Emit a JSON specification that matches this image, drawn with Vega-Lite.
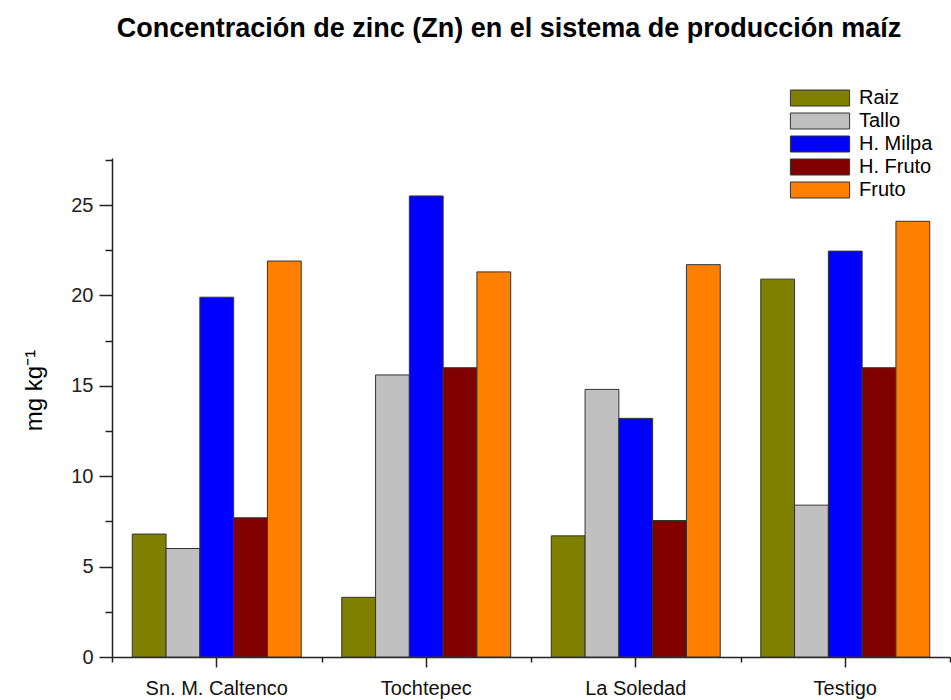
{
  "$schema": "https://vega.github.io/schema/vega-lite/v6.json",
  "width": 838,
  "height": 499,
  "autosize": {"type": "none"},
  "padding": {"left": 112, "top": 158, "right": 1, "bottom": 43},
  "background": "white",
  "config": {"view": {"stroke": null}, "font": "Liberation Sans"},
  "title": {
    "text": "Concentración de zinc (Zn) en el sistema de producción maíz",
    "fontSize": 27,
    "fontWeight": "bold",
    "font": "Liberation Sans",
    "color": "#000",
    "anchor": "middle",
    "dx": -22,
    "offset": 24,
    "baseline": "alphabetic"
  },
  "data": {
    "values": [
      {"site": "Sn. M. Caltenco", "part": "Raiz", "value": 6.8},
      {"site": "Sn. M. Caltenco", "part": "Tallo", "value": 6.0},
      {"site": "Sn. M. Caltenco", "part": "H. Milpa", "value": 19.9},
      {"site": "Sn. M. Caltenco", "part": "H. Fruto", "value": 7.7},
      {"site": "Sn. M. Caltenco", "part": "Fruto", "value": 21.9},
      {"site": "Tochtepec", "part": "Raiz", "value": 3.3},
      {"site": "Tochtepec", "part": "Tallo", "value": 15.6},
      {"site": "Tochtepec", "part": "H. Milpa", "value": 25.5},
      {"site": "Tochtepec", "part": "H. Fruto", "value": 16.0},
      {"site": "Tochtepec", "part": "Fruto", "value": 21.3},
      {"site": "La Soledad", "part": "Raiz", "value": 6.7},
      {"site": "La Soledad", "part": "Tallo", "value": 14.8},
      {"site": "La Soledad", "part": "H. Milpa", "value": 13.2},
      {"site": "La Soledad", "part": "H. Fruto", "value": 7.55},
      {"site": "La Soledad", "part": "Fruto", "value": 21.7},
      {"site": "Testigo", "part": "Raiz", "value": 20.9},
      {"site": "Testigo", "part": "Tallo", "value": 8.4},
      {"site": "Testigo", "part": "H. Milpa", "value": 22.45},
      {"site": "Testigo", "part": "H. Fruto", "value": 16.0},
      {"site": "Testigo", "part": "Fruto", "value": 24.1}
    ]
  },
  "layer": [
    {
      "mark": {"type": "bar", "stroke": "#333", "strokeWidth": 1},
      "encoding": {
        "x": {
          "field": "site",
          "type": "nominal",
          "sort": ["Sn. M. Caltenco", "Tochtepec", "La Soledad", "Testigo"],
          "scale": {"paddingInner": 0, "paddingOuter": 0},
          "axis": {
            "orient": "bottom",
            "tickSize": 10,
            "tickWidth": 1.5,
            "tickColor": "#222",
            "domainColor": "#222",
            "domainWidth": 1.5,
            "labelFontSize": 20,
            "labelColor": "#111",
            "labelPadding": 11,
            "labelAngle": 0,
            "title": null,
            "grid": false
          }
        },
        "xOffset": {
          "field": "part",
          "type": "nominal",
          "sort": ["Raiz", "Tallo", "H. Milpa", "H. Fruto", "Fruto"],
          "scale": {"paddingInner": 0, "paddingOuter": 0.6}
        },
        "y": {
          "field": "value",
          "type": "quantitative",
          "scale": {"domain": [0, 27.6], "nice": false, "zero": true},
          "axis": {
            "orient": "left",
            "values": [0, 5, 10, 15, 20, 25],
            "tickSize": 13,
            "tickWidth": 1.5,
            "tickColor": "#222",
            "domainColor": "#222",
            "domainWidth": 1.5,
            "labelFontSize": 20,
            "labelColor": "#222",
            "labelPadding": 6,
            "grid": false,
            "title": "mg kg⁻¹",
            "titleFontSize": 24,
            "titleFontWeight": "normal",
            "titleColor": "#000",
            "titleX": -66,
            "titleY": 232,
            "titleAngle": -90,
            "titleBaseline": "bottom",
            "titleAlign": "center"
          }
        },
        "color": {
          "field": "part",
          "type": "nominal",
          "sort": ["Raiz", "Tallo", "H. Milpa", "H. Fruto", "Fruto"],
          "scale": {
            "domain": ["Raiz", "Tallo", "H. Milpa", "H. Fruto", "Fruto"],
            "range": ["#808000", "#c0c0c0", "#0000ff", "#800000", "#ff8000"]
          },
          "legend": {
            "orient": "none",
            "legendX": 698,
            "legendY": -70,
            "title": null,
            "padding": 0,
            "symbolType": "M-3.7,-1L3.7,-1L3.7,1L-3.7,1Z",
            "symbolSize": 256,
            "symbolStrokeColor": "#333",
            "symbolStrokeWidth": 1,
            "symbolOpacity": 1,
            "labelFontSize": 20,
            "labelColor": "#000",
            "labelOffset": 29,
            "rowPadding": 3
          }
        }
      }
    },
    {
      "mark": {"type": "point", "opacity": 0},
      "encoding": {
        "x": {
          "field": "site",
          "type": "nominal",
          "sort": ["Sn. M. Caltenco", "Tochtepec", "La Soledad", "Testigo"],
          "axis": {
            "orient": "bottom",
            "tickBand": "extent",
            "tickSize": 5,
            "tickWidth": 1.5,
            "tickColor": "#222",
            "labels": false,
            "domain": false,
            "title": null,
            "grid": false
          }
        },
        "y": {
          "field": "value",
          "type": "quantitative",
          "axis": {
            "orient": "left",
            "values": [2.5, 7.5, 12.5, 17.5, 22.5, 27.5],
            "tickSize": 7,
            "tickWidth": 1.5,
            "tickColor": "#222",
            "labels": false,
            "domain": false,
            "title": null,
            "grid": false
          }
        }
      }
    }
  ],
  "resolve": {"axis": {"x": "independent", "y": "independent"}}
}
